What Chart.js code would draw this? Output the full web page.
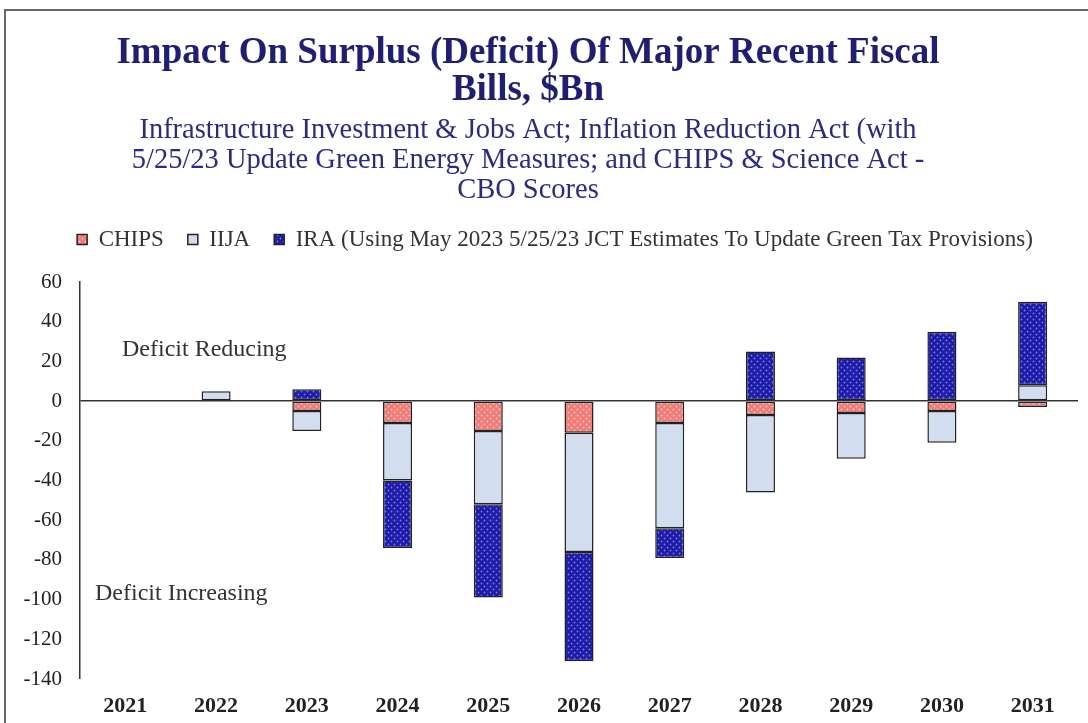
<!DOCTYPE html>
<html>
<head>
<meta charset="utf-8">
<script src="https://cdn.jsdelivr.net/npm/chart.js@4"></script>
<style>
html,body{margin:0;padding:0;background:#fff;}
#wrap{width:1088px;height:723px;position:relative;}
</style>
</head>
<body>
<div id="wrap"><canvas id="c" width="1088" height="723"></canvas></div>
<script>
const years = ['2021','2022','2023','2024','2025','2026','2027','2028','2029','2030','2031'];
const chips = [null, null, -5, -11, -15, -16, -11, -7, -6, -5, -3];
const iija  = [null, 5, -10, -29, -37, -60, -53, -39, -23, -16, 8];
const ira   = [null, null, 6, -34, -47, -55, -15, 25, 22, 35, 42];
const seriesNames = ['CHIPS', 'IIJA', 'IRA (Using May 2023 5/25/23 JCT Estimates To Update Green Tax Provisions)'];
const titleLines = ['Impact On Surplus (Deficit) Of Major Recent Fiscal', 'Bills, $Bn'];
const subtitleLines = ['Infrastructure Investment & Jobs Act; Inflation Reduction Act (with', '5/25/23 Update Green Energy Measures; and CHIPS & Science Act -', 'CBO Scores'];
const yTicks = [60, 40, 20, 0, -20, -40, -60, -80, -100, -120, -140];

function dotPattern(bg, dot, size, r) {
  const c = document.createElement('canvas');
  c.width = size; c.height = size;
  const x = c.getContext('2d');
  x.fillStyle = bg; x.fillRect(0, 0, size, size);
  x.fillStyle = dot;
  x.beginPath(); x.arc(size/4, size/4, r, 0, Math.PI*2); x.fill();
  x.beginPath(); x.arc(3*size/4, 3*size/4, r, 0, Math.PI*2); x.fill();
  return x.createPattern(c, 'repeat');
}
const ctx0 = document.getElementById('c').getContext('2d');
const chipsFill = dotPattern('#f07c78', '#f9c4bf', 6, 0.9);
const iraFill = dotPattern('#1c1ca6', '#7a7ae6', 6, 0.9);
const iijaFill = '#d2def0';

const decor = {
  id: 'decor',
  beforeLayout(chart) {
    const lg = chart.legend;
    if (lg && !lg._patched) {
      const orig = lg.fit;
      lg.fit = function() { orig.call(this); this.height += 21; };
      lg._patched = true;
    }
  },
  afterLayout(chart) {
    const lg = chart.legend;
    if (lg) { lg.left += 16; lg.right += 16; }
  },
  beforeDraw(chart) {
    const c = chart.ctx;
    c.save();
    c.fillStyle = '#fff';
    c.fillRect(0, 0, chart.width, chart.height);
    c.strokeStyle = '#666';
    c.lineWidth = 2;
    c.beginPath();
    c.moveTo(5, chart.height); c.lineTo(5, 10); c.lineTo(chart.width, 10);
    c.stroke();
    c.textAlign = 'center';
    c.textBaseline = 'middle';
    c.fillStyle = '#1e1e78';
    c.font = 'bold 37px "Liberation Serif"';
    c.fillText(titleLines[0], 528, 53);
    c.fillText(titleLines[1], 528, 90);
    c.fillStyle = '#2a2a8c';
    c.font = '28.5px "Liberation Serif"';
    c.fillText(subtitleLines[0], 528, 131);
    c.fillText(subtitleLines[1], 528, 161);
    c.fillText(subtitleLines[2], 528, 191);
    c.restore();
  },
  afterDatasetsDraw(chart) {
    const c = chart.ctx;
    const y = chart.scales.y;
    c.save();
    c.fillStyle = '#333';
    c.font = '24px "Liberation Serif"';
    c.textAlign = 'left';
    c.textBaseline = 'middle';
    c.fillText('Deficit Reducing', 122, y.getPixelForValue(26));
    c.fillText('Deficit Increasing', 95, y.getPixelForValue(-97));
    c.restore();
  }
};

new Chart(ctx0, {
  type: 'bar',
  data: {
    labels: years,
    datasets: [
      {label: seriesNames[0], data: chips, backgroundColor: chipsFill, borderColor: '#222', borderWidth: 1.5, borderSkipped: false},
      {label: seriesNames[1], data: iija, backgroundColor: iijaFill, borderColor: '#222', borderWidth: 1.5, borderSkipped: false},
      {label: seriesNames[2], data: ira, backgroundColor: iraFill, borderColor: '#222', borderWidth: 1.5, borderSkipped: false}
    ]
  },
  options: {
    responsive: false,
    animation: false,
    devicePixelRatio: 1,
    categoryPercentage: 1,
    barPercentage: 0.32,
    layout: {padding: {top: 204, right: 10, left: 0, bottom: 0}},
    plugins: {
      title: {display: false},
      tooltip: {enabled: false},
      legend: {
        display: true,
        position: 'top',
        align: 'center',
        labels: {
          boxWidth: 10, boxHeight: 10, padding: 24,
          color: '#333',
          font: {family: '"Liberation Serif"', size: 23}
        }
      }
    },
    scales: {
      x: {
        stacked: true,
        grid: {display: false, drawTicks: false},
        border: {display: false},
        ticks: {color: '#222', padding: 14, font: {family: '"Liberation Serif"', size: 22, weight: 'bold'}},
        afterFit(s) { s.height = 44; }
      },
      y: {
        stacked: true,
        min: -140, max: 60,
        afterBuildTicks(s) { s.ticks = yTicks.map(v => ({value: v})); },
        grid: {
          drawTicks: false,
          color: (c) => c.tick && c.tick.value === 0 ? '#333' : 'rgba(0,0,0,0)',
          lineWidth: (c) => c.tick && c.tick.value === 0 ? 1.5 : 0
        },
        border: {display: true, color: '#333', width: 1.5},
        ticks: {color: '#222', padding: 18, font: {family: '"Liberation Serif"', size: 21}},
        afterFit(s) { s.width = 80; }
      }
    }
  },
  plugins: [decor]
});
</script>
</body>
</html>
